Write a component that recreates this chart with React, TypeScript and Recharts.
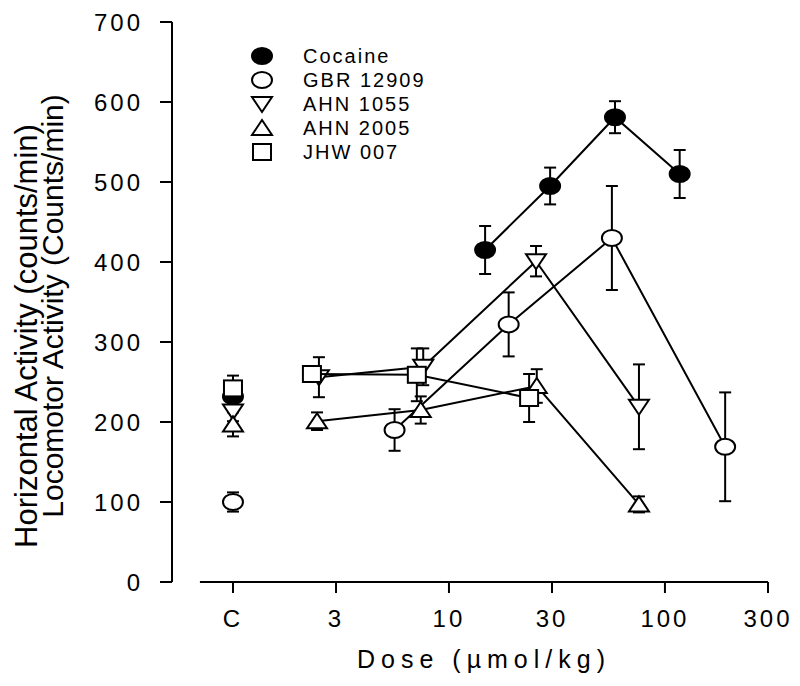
import React from 'react';
import { ScatterChart, Scatter, XAxis, YAxis, ErrorBar, ReferenceLine, Legend } from 'recharts';

const FONT = '"Liberation Sans", Arial, sans-serif';

const compounds = ['Cocaine', 'GBR 12909', 'AHN 1055', 'AHN 2005', 'JHW 007'];
const markers = ['filled', 'circle', 'down', 'up', 'square'];

// control (vehicle) values, plotted at "C"
const controlMean = [232, 100, 213, 197, 242];
const controlSem = [10, 12, 12, 15, 16];

const cocaineDose = [14.7, 29.4, 58.7, 117];
const cocaineMean = [415, 495, 581, 510];
const cocaineSem = [30, 23, 20, 30];

const gbrDose = [5.6, 18.9, 56.8, 190];
const gbrMean = [190, 322, 430, 169];
const gbrSem = [26, 40, 65, 68];

const ahn1055Dose = [2.5, 7.6, 25.3, 75.8];
const ahn1055Mean = [256, 269, 401, 219];
const ahn1055Sem = [25, 23, 19, 53];

const ahn2005Dose = [2.45, 7.4, 25.5, 75.8];
const ahn2005Mean = [201, 215, 245, 97];
const ahn2005Sem = [11, 17, 21, 10];

const jhwDose = [2.32, 7.1, 23.5];
const jhwMean = [260, 259, 230];
const jhwSem = [10, 33, 30];

const xTicks = [1, 3, 10, 30, 100, 300];
const yTicks = [0, 100, 200, 300, 400, 500, 600, 700];

const build = (d: number[], m: number[], s: number[]) => d.map((x, i) => ({ x, y: m[i], err: s[i] }));

const doseSeries = [
  build(cocaineDose, cocaineMean, cocaineSem),
  build(gbrDose, gbrMean, gbrSem),
  build(ahn1055Dose, ahn1055Mean, ahn1055Sem),
  build(ahn2005Dose, ahn2005Mean, ahn2005Sem),
  build(jhwDose, jhwMean, jhwSem),
];
const controlSeries = controlMean.map((y, i) => [{ x: 1, y, err: controlSem[i] }]);

const Marker = ({ cx, cy, kind }: { cx: number; cy: number; kind: string }) => {
  const sw = 2;
  if (kind === 'filled') return <ellipse cx={cx} cy={cy} rx={10} ry={8} fill="#000" stroke="#000" strokeWidth={sw} />;
  if (kind === 'circle') return <ellipse cx={cx} cy={cy} rx={10} ry={8} fill="#fff" stroke="#000" strokeWidth={sw} />;
  if (kind === 'down')
    return <polygon points={`${cx - 10},${cy - 7} ${cx + 10},${cy - 7} ${cx},${cy + 8}`} fill="#fff" stroke="#000" strokeWidth={sw} />;
  if (kind === 'up')
    return <polygon points={`${cx - 10},${cy + 7} ${cx + 10},${cy + 7} ${cx},${cy - 8}`} fill="#fff" stroke="#000" strokeWidth={sw} />;
  return <rect x={cx - 9} y={cy - 8} width={18} height={16} fill="#fff" stroke="#000" strokeWidth={sw} />;
};

const renderLegend = () => (
  <svg width={240} height={130}>
    {compounds.map((c, i) => (
      <g key={c}>
        <Marker cx={22} cy={16 + i * 24} kind={markers[i]} />
        <text x={63} y={16 + i * 24} dy="0.36em" fontSize={20} letterSpacing={2} fontFamily={FONT} fill="#000">
          {c}
        </text>
      </g>
    ))}
  </svg>
);

const renderYLabels = () => (
  <g>
    <text transform="translate(37,336) rotate(-90)" textAnchor="middle" fontSize={31} fontFamily={FONT} fill="#000">
      Horizontal Activity (counts/min)
    </text>
    <text transform="translate(63,306) rotate(-90)" textAnchor="middle" fontSize={30} fontFamily={FONT} fill="#000">
      Locomotor Activity (Counts/min)
    </text>
  </g>
);

const renderXLabel = () => (
  <text x={484} y={668} textAnchor="middle" fontSize={25} letterSpacing={6} fontFamily={FONT} fill="#000">
    Dose (µmol/kg)
  </text>
);

export default function App() {
  return (
    <div style={{ position: 'absolute', left: 0, top: 0 }}>
      <ScatterChart width={800} height={686} margin={{ top: 22, right: 32, bottom: 44, left: 0 }}>
        <XAxis
          dataKey="x"
          type="number"
          scale="log"
          domain={[0.522, 300]}
          allowDataOverflow
          ticks={xTicks}
          interval={0}
          tickFormatter={(v: number) => (v === 1 ? 'C' : String(v))}
          axisLine={false}
          tickLine={{ stroke: '#000', strokeWidth: 2 }}
          tickSize={11}
          tickMargin={17}
          height={60}
          tick={{ fill: '#000', fontSize: 24, fontFamily: FONT, letterSpacing: 3 }}
          label={{ content: renderXLabel }}
        />
        <YAxis
          dataKey="y"
          type="number"
          domain={[0, 700]}
          ticks={yTicks}
          interval={0}
          width={172}
          axisLine={{ stroke: '#000', strokeWidth: 2 }}
          tickLine={{ stroke: '#000', strokeWidth: 2 }}
          tickSize={12}
          tickMargin={17}
          tick={{ fill: '#000', fontSize: 24, fontFamily: FONT, letterSpacing: 3 }}
          label={{ content: renderYLabels }}
        />
        <ReferenceLine
          segment={[{ x: 0.703, y: 0 }, { x: 300, y: 0 }]}
          stroke="#000"
          strokeWidth={2}
          ifOverflow="visible"
        />
        <Legend content={renderLegend} verticalAlign="middle" align="center" wrapperStyle={{ left: 240, top: 40, width: 240 }} />
        {doseSeries.map((data, i) => (
          <Scatter
            key={compounds[i]}
            name={compounds[i]}
            data={data}
            line={{ stroke: '#000', strokeWidth: 2 }}
            isAnimationActive={false}
            shape={(p: any) => <Marker cx={p.cx} cy={p.cy} kind={markers[i]} />}
          >
            <ErrorBar dataKey="err" direction="y" width={6} stroke="#000" strokeWidth={2} />
          </Scatter>
        ))}
        {controlSeries.map((data, i) => (
          <Scatter
            key={compounds[i] + '-c'}
            name={compounds[i] + ' control'}
            data={data}
            isAnimationActive={false}
            shape={(p: any) => <Marker cx={p.cx} cy={p.cy} kind={markers[i]} />}
          >
            <ErrorBar dataKey="err" direction="y" width={6} stroke="#000" strokeWidth={2} />
          </Scatter>
        ))}
      </ScatterChart>
    </div>
  );
}
